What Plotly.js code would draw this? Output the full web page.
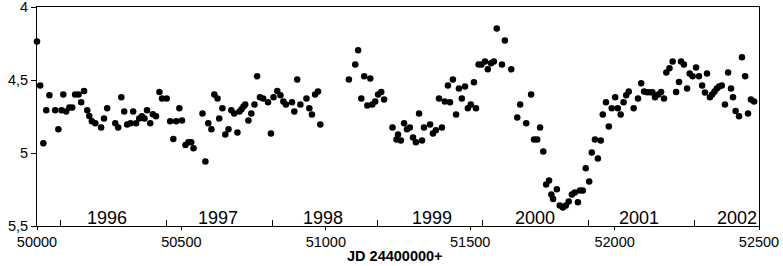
<!DOCTYPE html>
<html>
<head>
<meta charset="utf-8">
<script src="https://cdn.plot.ly/plotly-3.0.1.min.js"></script>
<style>
  html, body { margin: 0; padding: 0; background: #fff; overflow: hidden; }
  #chart { width: 783px; height: 266px; }
</style>
</head>
<body>
<div id="chart"></div>
<script>
// Julian date (JD - 2400000) of each observation
const jd = [
  50000, 50011, 50022, 50032, 50043, 50063, 50074, 50085, 50091, 50101,
  50112, 50122, 50132, 50144, 50153, 50163, 50174, 50181, 50190, 50202,
  50222, 50232, 50243, 50271, 50281, 50292, 50302, 50312, 50324, 50333,
  50343, 50354, 50363, 50372, 50381, 50392, 50401, 50412, 50424, 50433,
  50449, 50461, 50472, 50482, 50493, 50502, 50514, 50524, 50534, 50542,
  50573, 50583, 50593, 50604, 50614, 50625, 50631, 50642, 50652, 50663,
  50673, 50683, 50694, 50701, 50708, 50715, 50721, 50732, 50742, 50753,
  50762, 50772, 50783, 50800, 50810, 50819, 50832, 50843, 50853, 50862,
  50883, 50891, 50901, 50912, 50933, 50943, 50952, 50963, 50973, 50981,
  51080, 51102, 51112, 51123, 51133, 51144, 51154, 51161, 51171, 51181,
  51192, 51202, 51231, 51245, 51250, 51260, 51271, 51281, 51291, 51302,
  51312, 51323, 51333, 51340, 51361, 51371, 51381, 51392, 51402, 51412,
  51423, 51430, 51440, 51451, 51461, 51471, 51482, 51492, 51502, 51513,
  51520, 51529, 51539, 51551, 51561, 51572, 51582, 51592, 51610, 51620,
  51642, 51663, 51673, 51694, 51711, 51721, 51732, 51742, 51753, 51763,
  51773, 51781, 51787, 51800, 51810, 51821, 51831, 51841, 51852, 51862,
  51873, 51880, 51890, 51900, 51912, 51921, 51932, 51942, 51952, 51959,
  51970, 51980, 51990, 52002, 52011, 52021, 52031, 52040, 52049, 52066,
  52081, 52092, 52102, 52113, 52123, 52131, 52140, 52151, 52161, 52171,
  52179, 52190, 52201, 52213, 52223, 52230, 52240, 52251, 52260, 52270,
  52282, 52292, 52303, 52313, 52320, 52330, 52338, 52346, 52354, 52362,
  52371, 52382, 52393, 52403, 52410, 52419, 52431, 52441, 52452, 52462,
  52472, 52483
];
// Magnitude
const mag = [
  4.236, 4.537, 4.934, 4.708, 4.605, 4.708, 4.838, 4.708, 4.599, 4.715,
  4.688, 4.688, 4.599, 4.599, 4.653, 4.575, 4.708, 4.747, 4.783, 4.797,
  4.825, 4.763, 4.694, 4.797, 4.825, 4.619, 4.715, 4.804, 4.797, 4.715,
  4.797, 4.763, 4.749, 4.763, 4.708, 4.797, 4.735, 4.749, 4.582, 4.626,
  4.626, 4.783, 4.904, 4.783, 4.694, 4.777, 4.945, 4.927, 4.927, 4.968,
  4.729, 5.058, 4.797, 4.838, 4.599, 4.626, 4.763, 4.694, 4.873, 4.838,
  4.708, 4.729, 4.859, 4.715, 4.701, 4.681, 4.667, 4.777, 4.729, 4.667,
  4.475, 4.619, 4.626, 4.653, 4.866, 4.619, 4.575, 4.605, 4.647, 4.667,
  4.653, 4.715, 4.496, 4.667, 4.626, 4.694, 4.736, 4.599, 4.578, 4.804,
  4.496, 4.393, 4.297, 4.626, 4.475, 4.674, 4.489, 4.667, 4.647, 4.599,
  4.582, 4.633, 4.825, 4.907, 4.873, 4.914, 4.797, 4.838, 4.825, 4.893,
  4.927, 4.729, 4.914, 4.825, 4.804, 4.866, 4.845, 4.626, 4.825, 4.647,
  4.537, 4.653, 4.496, 4.736, 4.558, 4.626, 4.544, 4.694, 4.667, 4.516,
  4.694, 4.393, 4.393, 4.373, 4.427, 4.386, 4.373, 4.147, 4.393, 4.229,
  4.427, 4.756, 4.667, 4.797, 4.599, 4.907, 4.907, 4.825, 4.989, 5.215,
  5.188, 5.284, 5.315, 5.249, 5.359, 5.373, 5.359, 5.333, 5.284, 5.270,
  5.338, 5.256, 5.256, 5.105, 5.195, 4.996, 4.907, 5.037, 4.914, 4.736,
  4.653, 4.818, 4.694, 4.619, 4.694, 4.736, 4.653, 4.605, 4.578, 4.694,
  4.626, 4.523, 4.578, 4.584, 4.584, 4.584, 4.619, 4.599, 4.582, 4.626,
  4.448, 4.420, 4.373, 4.582, 4.514, 4.373, 4.393, 4.558, 4.455, 4.475,
  4.414, 4.475, 4.537, 4.585, 4.455, 4.619, 4.599, 4.578, 4.558, 4.544,
  4.537, 4.667, 4.448, 4.558, 4.619, 4.712, 4.749, 4.345, 4.475, 4.729,
  4.633, 4.647
];
// JD of January 1 for each year (minor ticks)
const yearStarts = [50083, 50449, 50814, 51179, 51544, 51910, 52275];
// year labels and where they sit along the JD axis
const yearLabels = ['1996', '1997', '1998', '1999', '2000', '2001', '2002'];
const yearLabelJD = [50244, 50628, 50989, 51367, 51725, 52084, 52424];
const yearLabelMag = 5.442;
// axis ticks
const xTickVals = [50000, 50500, 51000, 51500, 52000, 52500];
const xTickText = ['50000', '50500', '51000', '51500', '52000', '52500'];
const yTickVals = [4, 4.5, 5, 5.5];
const yTickText = ['4', '4,5', '5', '5,5'];
const xTitle = 'JD 24400000+';

const FONT = 'Arial, "Liberation Sans", sans-serif';

const trace = {
  x: jd,
  y: mag,
  type: 'scatter',
  mode: 'markers',
  marker: { color: '#000', size: 6.5 },
  hoverinfo: 'x+y',
  showlegend: false,
  cliponaxis: false
};

const annotations = yearLabels.map((t, i) => ({
  x: yearLabelJD[i],
  y: yearLabelMag,
  xref: 'x',
  yref: 'y',
  text: t,
  showarrow: false,
  font: { family: FONT, size: 18, color: '#000' },
  xanchor: 'center',
  yanchor: 'middle'
}));

annotations.push({
  x: 0.496,
  y: 0,
  xref: 'paper',
  yref: 'paper',
  yshift: -30,
  text: '<b>' + xTitle + '</b>',
  showarrow: false,
  font: { family: FONT, size: 14.5, color: '#000' },
  xanchor: 'center',
  yanchor: 'middle',
  borderpad: 0
});

const layout = {
  width: 783,
  height: 266,
  margin: { l: 37, r: 24, t: 7, b: 40, pad: 0 },
  paper_bgcolor: '#fff',
  plot_bgcolor: '#fff',
  showlegend: false,
  font: { family: FONT, size: 14, color: '#000' },
  xaxis: {
    range: [50000, 52500],
    tickmode: 'array',
    tickvals: xTickVals,
    ticktext: xTickText,
    ticks: 'outside',
    ticklen: 3,
    tickcolor: '#000',
    showline: true,
    linecolor: '#000',
    linewidth: 1,
    mirror: true,
    showgrid: false,
    zeroline: false,
    ticklabeloverflow: 'allow',
    tickfont: { family: FONT, size: 14.5, color: '#000' },
    minor: {
      tickmode: 'array',
      tickvals: yearStarts,
      ticks: 'inside',
      ticklen: 6,
      tickcolor: '#000',
      showgrid: false
    }
  },
  yaxis: {
    range: [5.5, 4],
    tickmode: 'array',
    tickvals: yTickVals,
    ticktext: yTickText,
    ticks: 'outside',
    ticklen: 5,
    tickcolor: '#000',
    showline: true,
    linecolor: '#000',
    linewidth: 1,
    mirror: true,
    showgrid: false,
    zeroline: false,
    ticklabeloverflow: 'allow',
    tickfont: { family: FONT, size: 14.5, color: '#000' }
  },
  annotations: annotations
};

Plotly.newPlot('chart', [trace], layout, { displayModeBar: false, staticPlot: true });
</script>
</body>
</html>
